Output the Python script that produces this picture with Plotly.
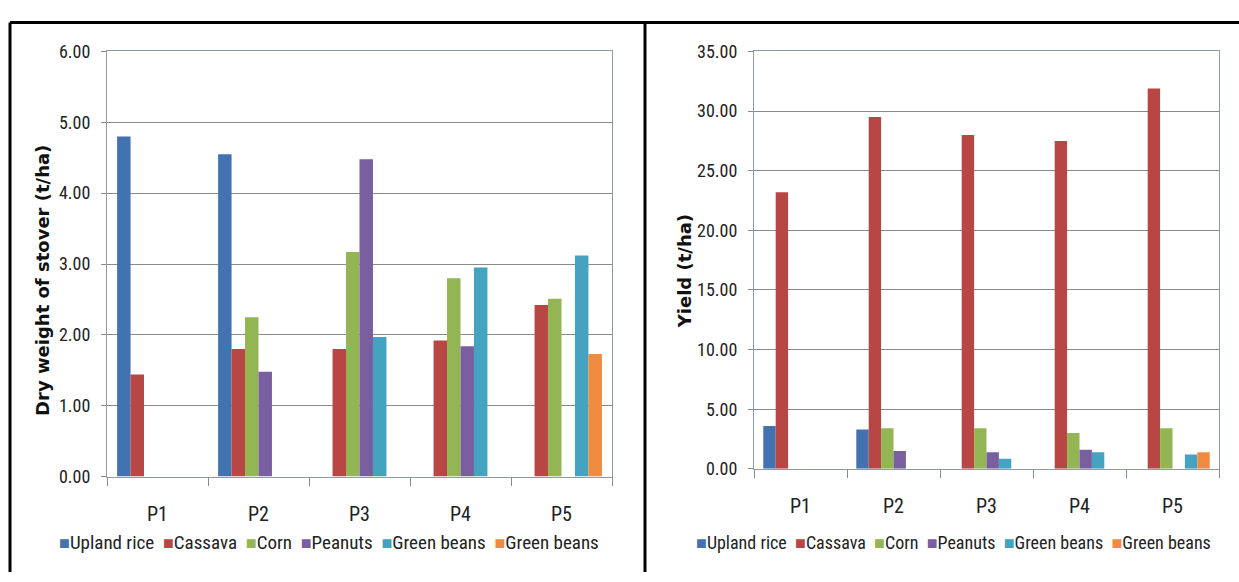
import plotly.graph_objects as go

# ---- data -------------------------------------------------------------
periods = ["P1", "P2", "P3", "P4", "P5"]
crops = ["Upland rice", "Cassava", "Corn", "Peanuts", "Green beans", "Green beans"]
crop_colors = ["#4272B0", "#B84644", "#93B553", "#7A5FA0", "#43A3C0", "#EE8B3E"]

# Dry weight of stover (t/ha); None = crop absent in that pattern
stover_upland_rice = [4.80, 4.55, None, None, None]
stover_cassava = [1.44, 1.80, 1.80, 1.92, 2.42]
stover_corn = [None, 2.25, 3.17, 2.80, 2.51]
stover_peanuts = [None, 1.48, 4.48, 1.84, None]
stover_green_beans = [None, None, 1.97, 2.95, 3.12]
stover_green_beans_2 = [None, None, None, None, 1.73]

# Yield (t/ha)
yield_upland_rice = [3.60, 3.30, None, None, None]
yield_cassava = [23.20, 29.50, 28.00, 27.50, 31.90]
yield_corn = [None, 3.40, 3.40, 3.00, 3.40]
yield_peanuts = [None, 1.50, 1.40, 1.60, None]
yield_green_beans = [None, None, 0.85, 1.40, 1.20]
yield_green_beans_2 = [None, None, None, None, 1.40]

stover_ticks = [0, 1, 2, 3, 4, 5, 6]
yield_ticks = [0, 5, 10, 15, 20, 25, 30, 35]

stover_series = [stover_upland_rice, stover_cassava, stover_corn,
                 stover_peanuts, stover_green_beans, stover_green_beans_2]
yield_series = [yield_upland_rice, yield_cassava, yield_corn,
                yield_peanuts, yield_green_beans, yield_green_beans_2]

# ---- layout helpers ---------------------------------------------------
W, H = 1239, 582


def px_x(x):
    return x / W


def px_y(y):
    return 1 - y / H


NARROW = "Liberation Sans Narrow, Roboto Condensed, Arial Narrow, sans-serif"
GRID = "#8a8a8a"
FRAME = "#8e9aa6"

fig = go.Figure()

for name, color, vals in zip(crops, crop_colors, stover_series):
    fig.add_trace(go.Bar(x=periods, y=vals, name=name, marker_color=color,
                         marker_line_width=0, showlegend=False,
                         xaxis="x", yaxis="y"))

for name, color, vals in zip(crops, crop_colors, yield_series):
    fig.add_trace(go.Bar(x=periods, y=vals, name=name, marker_color=color,
                         marker_line_width=0, showlegend=False,
                         xaxis="x2", yaxis="y2"))

common_x = dict(type="category", showgrid=False, showline=True, linecolor=FRAME,
                linewidth=1, mirror=True, ticks="outside", tickson="boundaries",
                ticklen=8, tickcolor=GRID, tickfont=dict(family=NARROW, size=20, color="#222"),
                ticklabelstandoff=19, zeroline=False)
common_y = dict(showgrid=True, gridcolor=GRID, gridwidth=1, showline=True,
                linecolor=FRAME, linewidth=1, mirror=True, ticks="outside",
                ticklen=5, tickcolor=GRID, tickformat=".2f", zeroline=False,
                tickfont=dict(family=NARROW, size=18, color="#222"),
                ticklabelstandoff=7)

fig.update_layout(
    width=W, height=H,
    margin=dict(l=0, r=0, t=0, b=0),
    paper_bgcolor="white", plot_bgcolor="white",
    barmode="group", bargap=0.2, bargroupgap=0,
    showlegend=False,
    xaxis=dict(domain=[px_x(107), px_x(612)], anchor="y", **common_x),
    yaxis=dict(domain=[px_y(483), px_y(42)], anchor="x", range=[0, 6],
               tickvals=stover_ticks, **common_y),
    xaxis2=dict(domain=[px_x(754), px_x(1219)], anchor="y2", **common_x),
    yaxis2=dict(domain=[px_y(475), px_y(42)], anchor="x2", range=[0, 35],
                tickvals=yield_ticks, **common_y),
)

# y-axis titles
title_font = dict(family="DejaVu Sans", size=18, color="#111", weight="bold")
fig.add_annotation(text="Dry weight of stover (t/ha)", x=px_x(43), y=px_y(280),
                   xref="paper", yref="paper", textangle=-90, showarrow=False,
                   xanchor="center", yanchor="middle", font=title_font)
fig.add_annotation(text="Yield (t/ha)", x=px_x(684), y=px_y(270),
                   xref="paper", yref="paper", textangle=-90, showarrow=False,
                   xanchor="center", yanchor="middle", font=title_font)

# legends below each panel
legend_text = "&nbsp;&nbsp;".join(
    f'<span style="color:{c};font-size:18px">■</span>{n}' for n, c in zip(crops, crop_colors)
)
for cx, fsize in ((329, 19), (953, 18)):
    fig.add_annotation(text=legend_text, x=px_x(cx), y=px_y(551), xref="paper",
                       yref="paper", showarrow=False, xanchor="center", yanchor="middle",
                       font=dict(family=NARROW, size=fsize, color="#222"))

# outer frame and divider
frame = dict(type="line", xref="paper", yref="paper", line=dict(color="black", width=3))
fig.add_shape(x0=px_x(10), x1=1, y0=px_y(12), y1=px_y(12), **frame)
fig.add_shape(x0=px_x(10), x1=px_x(10), y0=px_y(12), y1=0, **frame)
fig.add_shape(x0=px_x(645), x1=px_x(645), y0=px_y(12), y1=0, **frame)

fig.write_html("out.html")
